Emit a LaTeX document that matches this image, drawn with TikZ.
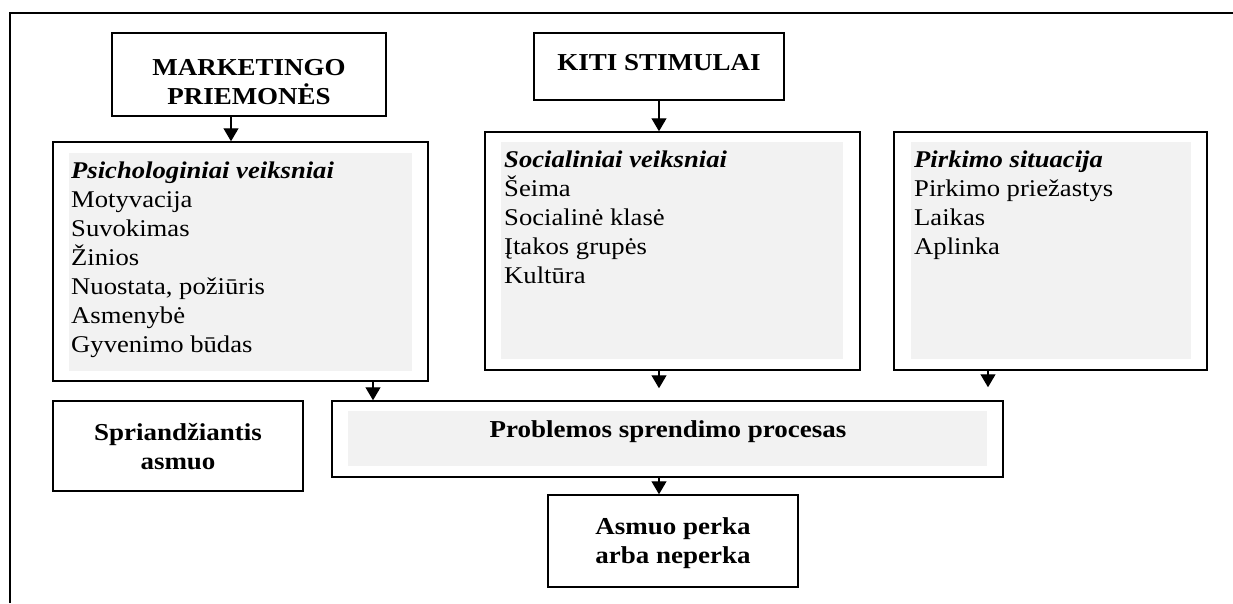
\documentclass[tikz,border=0pt]{standalone}
\usepackage{fontspec}
\setmainfont{Liberation Serif}[FakeStretch=1.11]
\usetikzlibrary{arrows.meta}
\definecolor{shadegray}{RGB}{242,242,242}
\newcommand\tightlines{\lineskiplimit=-100pt\relax}
\begin{document}
\begin{tikzpicture}[x=1pt,y=-1pt,
  box/.style={draw, line width=1.5pt, inner sep=0pt, fill=white},
  shadebox/.style={fill=shadegray, draw=none, inner sep=0pt},
  arr/.style={line width=1.3pt, -{Triangle[width=15pt,length=13pt]}},
  title/.style={font=\fontsize{24.3}{29}\selectfont\bfseries\tightlines, align=center, inner sep=0pt, anchor=base},
  listtext/.style={font=\fontsize{24}{29}\selectfont\tightlines, align=left, anchor=base west, inner sep=0pt}]
\useasboundingbox (0,0) rectangle (1233,603);
% outer frame
\draw[line width=1.5pt] (10,603) -- (10,13) -- (1233,13);
% boxes
\node[box, minimum width=274pt, minimum height=83pt] (mkt) at (249,74.5) {};
\node[box, minimum width=250pt, minimum height=67pt] (kiti) at (659,66.5) {};
\node[box, minimum width=375pt, minimum height=239pt] (psy) at (240.5,261.5) {};
\node[shadebox, minimum width=343pt, minimum height=218pt] (psyg) at (240.5,262) {};
\node[box, minimum width=375pt, minimum height=238pt] (soc) at (672.5,251) {};
\node[shadebox, minimum width=342pt, minimum height=217pt] (socg) at (672,250.5) {};
\node[box, minimum width=313pt, minimum height=238pt] (pirk) at (1050.5,251) {};
\node[shadebox, minimum width=280pt, minimum height=217pt] (pirkg) at (1051,250.5) {};
\node[box, minimum width=250pt, minimum height=90pt] (spr) at (178,446) {};
\node[box, minimum width=671pt, minimum height=76pt] (prob) at (667.5,439) {};
\node[shadebox, minimum width=639pt, minimum height=55pt] (probg) at (667.5,438.5) {};
\node[box, minimum width=250pt, minimum height=92pt] (asm) at (673,541) {};
% texts (base = baseline of the last line)
\node[title] (mktt) at (249,104) {MARKETINGO\\PRIEMONĖS};
\node[title] (kitit) at (659,70) {KITI STIMULAI};
\node[title] (sprt) at (178,469) {Spriandžiantis\\asmuo};
\node[title] (probt) at (668,437) {Problemos sprendimo procesas};
\node[title] (asmt) at (673,563) {Asmuo perka\\arba neperka};
\node[listtext] (psyt) at (71,352) {\textbf{\textit{Psichologiniai veiksniai}}\\Motyvacija\\Suvokimas\\Žinios\\Nuostata, požiūris\\Asmenybė\\Gyvenimo būdas};
\node[listtext] (soct) at (504,283) {\textbf{\textit{Socialiniai veiksniai}}\\Šeima\\Socialinė klasė\\Įtakos grupės\\Kultūra};
\node[listtext] (pirkt) at (914,254) {\textbf{\textit{Pirkimo situacija}}\\Pirkimo priežastys\\Laikas\\Aplinka};
% connectors
\draw[arr] ([xshift=-18pt]mkt.south) -- ([xshift=-18pt]mkt.south |- psy.north);
\draw[arr] (kiti.south) -- (kiti.south |- soc.north);
\draw[arr] ([xshift=132.5pt]psy.south) -- ([xshift=132.5pt]psy.south |- prob.north);
\draw[arr] ([xshift=-13.5pt]soc.south) -- ([xshift=-13.5pt,yshift=12pt]soc.south |- prob.north);
\draw[arr] ([xshift=-62.5pt]pirk.south) -- ([xshift=-62.5pt,yshift=13pt]pirk.south |- prob.north);
\draw[arr] ([xshift=-8.5pt]prob.south) -- ([xshift=-8.5pt]prob.south |- asm.north);
\end{tikzpicture}
\end{document}
